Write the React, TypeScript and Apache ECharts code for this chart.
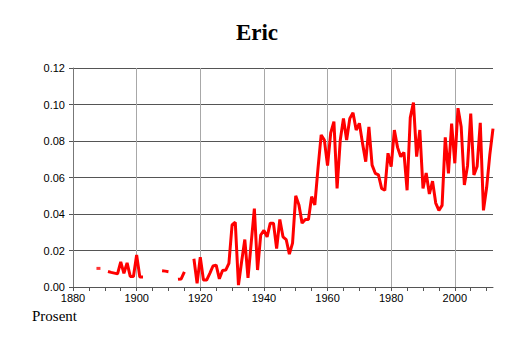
import React, { useEffect, useRef } from "react";
import * as echarts from "echarts";

const title = "Eric";
const yAxisName = "Prosent";

const years: number[] = [];
for (let y = 1888; y <= 2012; y++) years.push(y);

// values per year, 1888..2012 (null = no data)
const values: (number | null)[] = [
  0.0102, null, null, 0.0085, 0.008, 0.0076, 0.0072, 0.0138, 0.0075, 0.0132, // 1888-1897
  0.0058, 0.0058, 0.0175, 0.0055, 0.0055, null, null, null, null, null, // 1898-1907
  0.0089, 0.0087, 0.0084, null, null, 0.0042, 0.0044, 0.0083, null, null, // 1908-1917
  0.0155, 0.002, 0.0163, 0.0038, 0.0038, 0.0075, 0.0115, 0.012, 0.0045, 0.009, // 1918-1927
  0.0093, 0.013, 0.034, 0.0355, 0.001, 0.014, 0.026, 0.005, 0.024, 0.043, // 1928-1937
  0.0093, 0.0285, 0.031, 0.0275, 0.035, 0.035, 0.021, 0.037, 0.0275, 0.026, // 1938-1947
  0.018, 0.024, 0.05, 0.045, 0.035, 0.037, 0.037, 0.0495, 0.045, 0.065, // 1948-1957
  0.0833, 0.0805, 0.0665, 0.0845, 0.0906, 0.054, 0.0805, 0.0924, 0.0805, 0.0924, // 1958-1967
  0.0955, 0.086, 0.0897, 0.0787, 0.0687, 0.0878, 0.0668, 0.0623, 0.0614, 0.054, // 1968-1977
  0.053, 0.0733, 0.066, 0.086, 0.0765, 0.0714, 0.0738, 0.053, 0.0928, 0.101, // 1978-1987
  0.0714, 0.086, 0.054, 0.0625, 0.051, 0.058, 0.046, 0.042, 0.0447, 0.082, // 1988-1997
  0.0623, 0.0895, 0.0678, 0.098, 0.0878, 0.0559, 0.0665, 0.095, 0.0614, 0.066, // 1998-2007
  0.09, 0.042, 0.0545, 0.0725, 0.0868, // 2008-2012
];

const xMin = 1880;
const xMax = 2012;
const yMin = 0;
const yMax = 0.12;
const yStep = 0.02;
const xLabelStep = 20;
const xTickStep = 5;

export default function App() {
  const ref = useRef<HTMLDivElement>(null);
  useEffect(() => {
    if (!ref.current) return;
    const chart = echarts.init(ref.current, undefined, { renderer: "svg" });
    const lineData = years.map((y, i) => [y, values[i] === null ? "-" : values[i]]);
    const isolated = years
      .map((y, i) => ({ y, v: values[i], i }))
      .filter(
        (p) =>
          p.v !== null &&
          (p.i === 0 || values[p.i - 1] === null) &&
          (p.i === values.length - 1 || values[p.i + 1] === null)
      )
      .map((p) => [p.y, p.v]);
    const labelFont = {
      fontFamily: "Liberation Sans, Arial, sans-serif",
      fontSize: 11,
      color: "#000",
    };
    chart.setOption({
      animation: false,
      title: {
        text: title,
        left: "center",
        top: 16,
        textStyle: {
          fontFamily: "Liberation Serif, Times New Roman, serif",
          fontWeight: "bold",
          fontSize: 23,
          color: "#000",
        },
      },
      graphic: [
        {
          type: "text",
          left: 32,
          top: 308,
          style: {
            text: yAxisName,
            fontFamily: "Liberation Serif, Times New Roman, serif",
            fontSize: 15,
            fill: "#000",
          },
        },
      ],
      grid: { left: 73, right: 21, top: 68, bottom: 56, containLabel: false },
      xAxis: [
        {
          type: "value",
          min: xMin,
          max: xMax,
          interval: xTickStep,
          axisLine: { show: true, lineStyle: { color: "#555", width: 1 } },
          axisTick: { show: true, length: 4, lineStyle: { color: "#555" } },
          axisLabel: {
            ...labelFont,
            margin: 5,
            showMaxLabel: false,
            formatter: (v: number) => ((v - xMin) % xLabelStep === 0 ? String(v) : ""),
          },
          splitLine: { show: false },
        },
        {
          type: "value",
          min: xMin,
          max: xMax,
          interval: xLabelStep,
          position: "bottom",
          axisLine: { show: false },
          axisTick: { show: false },
          axisLabel: { show: false },
          splitLine: {
            show: true,
            showMinLine: false,
            showMaxLine: false,
            lineStyle: { color: "#a8a8a8", width: 1 },
          },
        },
      ],
      yAxis: {
        type: "value",
        min: yMin,
        max: yMax,
        interval: yStep,
        axisLine: { show: true, lineStyle: { color: "#777", width: 1 } },
        axisTick: { show: true, length: 4, lineStyle: { color: "#555" } },
        axisLabel: {
          ...labelFont,
          margin: 8,
          formatter: (v: number) => v.toFixed(2),
        },
        splitLine: {
          show: true,
          showMinLine: false,
          lineStyle: { color: "#555", width: 1 },
        },
      },
      series: [
        {
          type: "line",
          xAxisIndex: 0,
          data: lineData,
          showSymbol: false,
          connectNulls: false,
          lineStyle: { color: "#ff0000", width: 3 },
          itemStyle: { color: "#ff0000" },
        },
        {
          type: "scatter",
          xAxisIndex: 0,
          data: isolated,
          symbol: "rect",
          symbolSize: [4, 3],
          itemStyle: { color: "#ff0000" },
        },
      ],
    });
    return () => chart.dispose();
  }, []);
  return (
    <div
      ref={ref}
      style={{ position: "fixed", left: 0, top: 0, width: 514, height: 343, background: "#fff" }}
    />
  );
}
